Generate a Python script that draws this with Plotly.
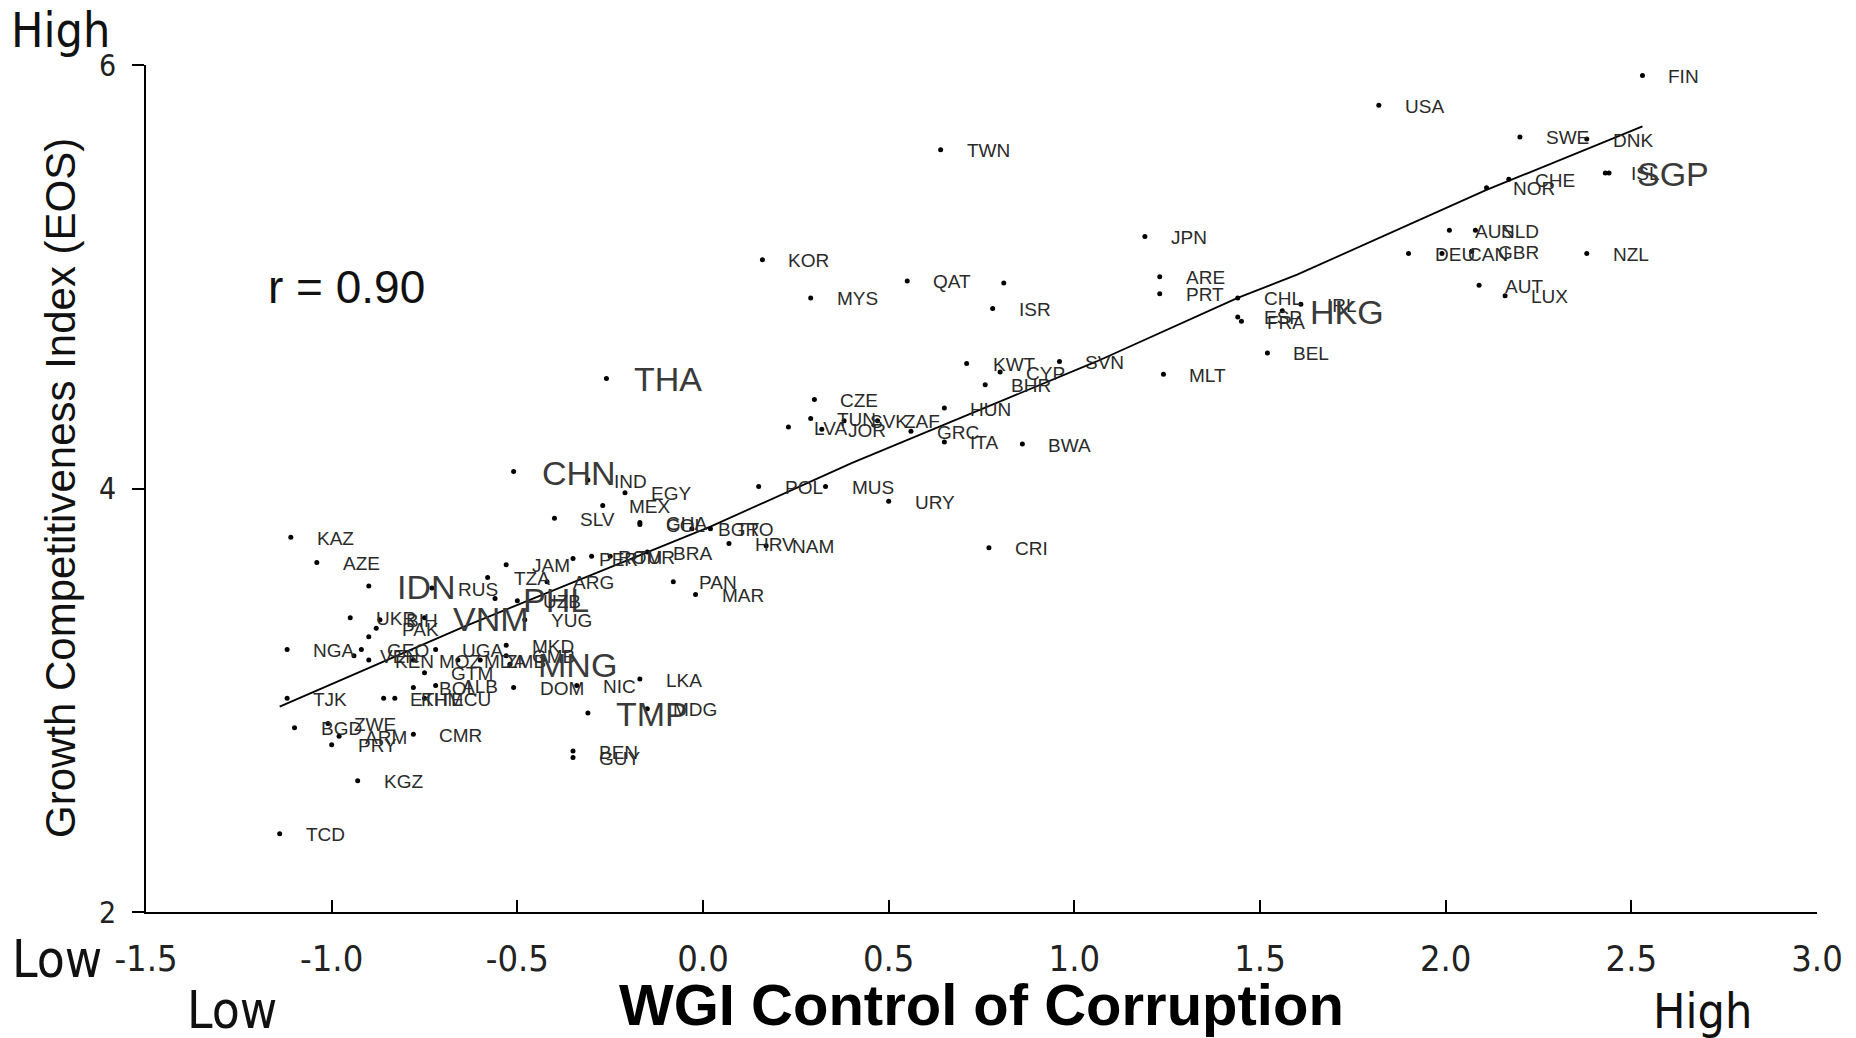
import plotly.graph_objects as go

# ---------------- data ----------------
countries = [
    "FIN", "USA", "TWN", "SWE", "DNK", "ISL", "SGP", "CHE", "NOR", "JPN",
    "AUS", "NLD", "DEU", "CAN", "GBR", "NZL", "AUT", "LUX", "ARE", "PRT",
    "CHL", "IRL", "HKG", "ESP", "FRA", "BEL", "MLT", "KOR", "QAT", "",
    "MYS", "ISR", "THA", "KWT", "CYP", "SVN", "BHR", "CZE", "TUN", "LVA",
    "JOR", "SVK", "ZAF", "HUN", "GRC", "ITA", "BWA", "POL", "MUS", "URY",
    "CRI", "CHN", "IND", "EGY", "MEX", "SLV", "COL", "GHA", "BGR", "TTO",
    "HRV", "NAM", "PER", "ROM", "TUR", "BRA", "JAM", "TZA", "RUS", "ARG",
    "IDN", "PHL", "UZB", "YUG", "VNM", "UKR", "BIH", "PAK", "", "NGA",
    "GEO", "VEN", "KEN", "UGA", "MOZ", "MDA", "ZMB", "GMB", "MKD", "MNG",
    "GTM", "BOL", "ALB", "ETH", "KHM", "ECU", "DOM", "NIC", "LKA", "TMP",
    "MDG", "TJK", "BGD", "ZWE", "PRY", "ARM", "CMR", "KGZ", "TCD", "BEN",
    "GUY", "PAN", "MAR", "KAZ", "AZE",
]
control_of_corruption = [
    2.53, 1.82, 0.64, 2.20, 2.38, 2.43, 2.44, 2.17, 2.11, 1.19,
    2.01, 2.08, 1.90, 1.99, 2.07, 2.38, 2.09, 2.16, 1.23, 1.23,
    1.44, 1.61, 1.56, 1.44, 1.45, 1.52, 1.24, 0.16, 0.55, 0.81,
    0.29, 0.78, -0.26, 0.71, 0.80, 0.96, 0.76, 0.30, 0.29, 0.23,
    0.32, 0.38, 0.47, 0.65, 0.56, 0.65, 0.86, 0.15, 0.33, 0.50,
    0.77, -0.51, -0.31, -0.21, -0.27, -0.40, -0.17, -0.17, -0.03, 0.02,
    0.07, 0.17, -0.35, -0.30, -0.25, -0.15, -0.53, -0.58, -0.73, -0.42,
    -0.90, -0.56, -0.50, -0.48, -0.75, -0.95, -0.87, -0.88, -0.90, -1.12,
    -0.92, -0.94, -0.90, -0.72, -0.78, -0.66, -0.60, -0.53, -0.53, -0.52,
    -0.75, -0.78, -0.72, -0.86, -0.83, -0.75, -0.51, -0.34, -0.17, -0.31,
    -0.15, -1.12, -1.10, -1.01, -1.00, -0.98, -0.78, -0.93, -1.14, -0.35,
    -0.35, -0.08, -0.02, -1.11, -1.04,
]
growth_competitiveness = [
    5.95, 5.81, 5.60, 5.66, 5.65, 5.49, 5.49, 5.46, 5.42, 5.19,
    5.22, 5.22, 5.11, 5.11, 5.12, 5.11, 4.96, 4.91, 5.00, 4.92,
    4.90, 4.87, 4.84, 4.81, 4.79, 4.64, 4.54, 5.08, 4.98, 4.97,
    4.90, 4.85, 4.52, 4.59, 4.55, 4.60, 4.49, 4.42, 4.33, 4.29,
    4.28, 4.32, 4.32, 4.38, 4.27, 4.22, 4.21, 4.01, 4.01, 3.94,
    3.72, 4.08, 4.04, 3.98, 3.92, 3.86, 3.83, 3.84, 3.81, 3.81,
    3.74, 3.73, 3.67, 3.68, 3.68, 3.70, 3.64, 3.58, 3.53, 3.56,
    3.54, 3.48, 3.47, 3.38, 3.39, 3.39, 3.38, 3.34, 3.30, 3.24,
    3.24, 3.21, 3.19, 3.24, 3.19, 3.19, 3.19, 3.21, 3.26, 3.17,
    3.13, 3.06, 3.07, 3.01, 3.01, 3.01, 3.06, 3.07, 3.10, 2.94,
    2.96, 3.01, 2.87, 2.89, 2.79, 2.83, 2.84, 2.62, 2.37, 2.76,
    2.73, 3.56, 3.50, 3.77, 3.65,
]
highlighted = ["THA", "CHN", "IDN", "PHL", "VNM", "MNG", "TMP", "HKG", "SGP"]

# fitted line, read at a few points along the drawn line
fit_x = [-1.14, -0.64, 0.02, 0.40, 1.06, 1.44, 1.60, 2.11, 2.53]
fit_y = [2.97, 3.35, 3.82, 4.12, 4.60, 4.90, 5.01, 5.41, 5.71]

x_tick_vals = [-1.5, -1.0, -0.5, 0.0, 0.5, 1.0, 1.5, 2.0, 2.5, 3.0]
x_tick_text = ["-1.5", "-1.0", "-0.5", "0.0", "0.5", "1.0", "1.5", "2.0", "2.5", "3.0"]
y_tick_vals = [2, 4, 6]
y_tick_text = ["2", "4", "6"]

x_title = "WGI Control of Corruption"
y_title = "Growth Competitiveness Index (EOS)"
r_text = "r = 0.90"

# ---------------- figure ----------------
NARROW = "Liberation Sans Narrow, Arial Narrow, DejaVu Sans Condensed, sans-serif"
SANS = "Liberation Sans, Arial, Helvetica, sans-serif"

OFF = 8  # page body margin
W, H = 1848, 1030
ML, MR, MT, MB = 138, 39, 57, 126
PW, PH = W - ML - MR, H - MT - MB


def px(page_x):
    return (page_x - OFF - ML) / PW


def py(page_y):
    return (H - MB - (page_y - OFF)) / PH


fig = go.Figure()
fig.add_trace(go.Scatter(
    x=fit_x, y=fit_y, mode="lines",
    line=dict(color="black", width=1.8), hoverinfo="skip",
))
fig.add_trace(go.Scatter(
    x=control_of_corruption, y=growth_competitiveness, mode="markers",
    marker=dict(color="black", size=5, line=dict(width=0)),
    text=countries, hoverinfo="text",
))

for name, xv, yv in zip(countries, control_of_corruption, growth_competitiveness):
    if not name:
        continue
    big = name in highlighted
    fig.add_annotation(
        x=xv, y=yv, text=name, showarrow=False,
        xanchor="left", yanchor="middle",
        xshift=26 if big else 24, yshift=-1,
        font=dict(family=SANS, size=34 if big else 19,
                  color="#3a3a3a" if big else "#2a2a2a"),
    )

# titles and corner words
fig.add_annotation(x=0.5, y=py(1004), xref="paper", yref="paper", text=f"<b>{x_title}</b>",
                   showarrow=False, xanchor="center", yanchor="middle",
                   font=dict(family=SANS, size=58, color="black"))
fig.add_annotation(x=px(61), y=py(488), xref="paper", yref="paper", text=y_title,
                   showarrow=False, textangle=-90, xanchor="center", yanchor="middle",
                   font=dict(family=SANS, size=42, color="#111"))
fig.add_annotation(x=px(266), y=py(287), xref="paper", yref="paper", text=r_text,
                   showarrow=False, xanchor="left", yanchor="middle",
                   font=dict(family=SANS, size=46, color="#111"))
fig.add_annotation(x=px(57), y=py(959), xref="paper", yref="paper", text="Low",
                   showarrow=False, xanchor="center", yanchor="middle",
                   font=dict(family=NARROW, size=51, color="#111"))
fig.add_annotation(x=px(232), y=py(1011), xref="paper", yref="paper", text="Low",
                   showarrow=False, xanchor="center", yanchor="middle",
                   font=dict(family=NARROW, size=51, color="#111"))
fig.add_annotation(x=px(1702), y=py(1011), xref="paper", yref="paper", text="High",
                   showarrow=False, xanchor="center", yanchor="middle",
                   font=dict(family=NARROW, size=48, color="#111"))
fig.add_annotation(x=px(60), y=py(30), xref="paper", yref="paper", text="High",
                   showarrow=False, xanchor="center", yanchor="middle",
                   font=dict(family=NARROW, size=48, color="#111"))

fig.update_layout(
    width=W, height=H,
    margin=dict(l=ML, r=MR, t=MT, b=MB, pad=0),
    plot_bgcolor="white", paper_bgcolor="white",
    showlegend=False,
    xaxis=dict(
        range=[-1.5, 3.0], tickmode="array", tickvals=x_tick_vals, ticktext=x_tick_text,
        ticks="inside", ticklen=12, tickwidth=1.5, tickcolor="black",
        showline=True, linecolor="black", linewidth=1.8,
        showgrid=False, zeroline=False,
        tickfont=dict(family=NARROW, size=36, color="#222"),
        ticklabelstandoff=14,
    ),
    yaxis=dict(
        range=[2, 6], tickmode="array", tickvals=y_tick_vals, ticktext=y_tick_text,
        ticks="outside", ticklen=12, tickwidth=1.5, tickcolor="black",
        showline=True, linecolor="black", linewidth=1.8,
        showgrid=False, zeroline=False,
        tickfont=dict(family=NARROW, size=30, color="#222"),
        ticklabelstandoff=10,
    ),
)

fig.write_html("out.html")
